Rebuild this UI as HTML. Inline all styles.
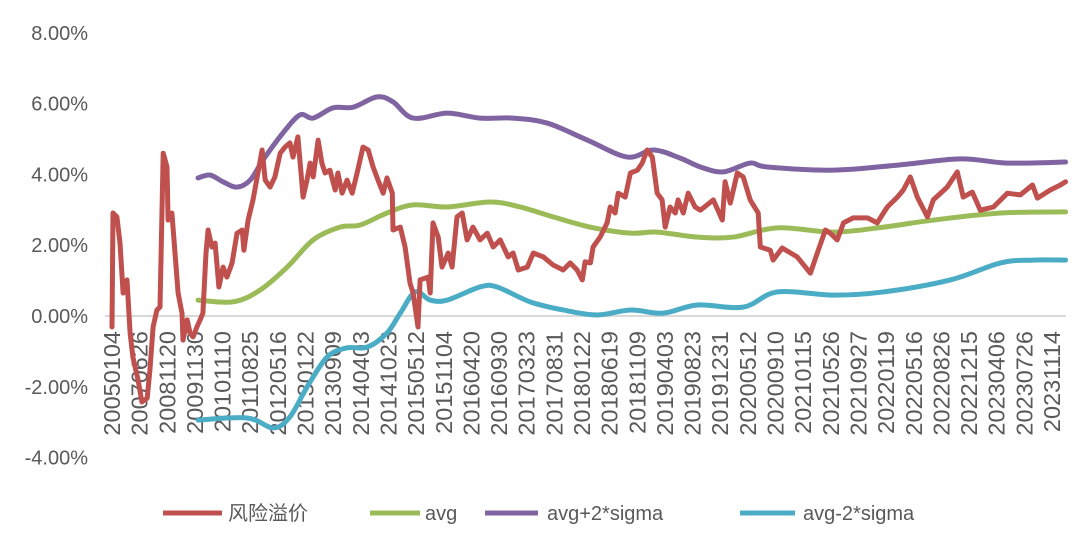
<!DOCTYPE html>
<html><head><meta charset="utf-8"><style>
body{margin:0;background:#fff;}
svg text{font-family:"Liberation Sans","Noto Sans CJK SC",sans-serif;fill:#595959;}
</style></head><body>
<svg id="chart" width="1086" height="537" viewBox="0 0 1086 537" xmlns="http://www.w3.org/2000/svg">
<g id="yaxis"></g>
<g id="xaxis"></g>
<g id="series"></g>
<g id="legend"></g>
</svg>
<script>
const xLabels=["20050104","20070626","20081120","20091130","20101110","20110825","20120516","20130122","20130909","20140403","20141023","20150512","20151104","20160420","20160930","20170323","20170831","20180122","20180619","20181109","20190403","20190823","20191231","20200512","20200910","20210115","20210526","20210927","20220119","20220516","20220826","20221215","20230406","20230726","20231114"];
const yTicks=[-4,-2,0,2,4,6,8];
const redT=[0,0.03,0.14,0.23,0.32,0.43,0.52,0.6,0.75,0.86,1.01,1.09,1.18,1.29,1.38,1.47,1.58,1.61,1.72,1.81,1.9,2.01,2.04,2.16,2.24,2.33,2.44,2.53,2.61,2.7,2.76,2.87,2.96,3.07,3.19,3.3,3.45,3.59,3.74,3.79,3.91,4.05,4.17,4.31,4.4,4.54,4.68,4.83,4.97,5.11,5.2,5.34,5.49,5.6,5.69,5.78,5.92,6.03,6.12,6.26,6.41,6.49,6.61,6.75,6.9,7.04,7.21,7.36,7.5,7.64,7.79,7.9,8.05,8.07,8.28,8.42,8.56,8.65,8.79,8.85,9.08,9.14,9.22,9.37,9.48,9.66,9.77,9.91,10.06,10.2,10.37,10.57,10.78,10.95,11.15,11.38,11.52,11.67,11.93,12.1,12.39,12.67,12.96,13.16,13.36,13.51,13.59,13.74,13.82,14.02,14.22,14.31,14.45,14.54,14.74,14.89,15.09,15.23,15.37,15.52,15.66,15.8,15.89,16.03,16.18,16.26,16.41,16.55,16.75,16.9,17.27,17.53,17.61,17.76,17.96,18.13,18.33,18.56,18.62,18.91,18.99,19.25,19.68,20.06,20.26,20.49,20.63,20.83,21.01,21.29,21.7,21.98,22.27,22.56,22.73,22.93,23.13,23.42,23.59,23.99,24.28,24.45,24.71,24.94,25.32,25.72,26.09,26.44,26.58,26.95,27.24,27.39];
const redV=[-0.31,2.91,2.8,2.06,0.65,1.02,-0.48,-1.16,-1.81,-2.43,-2.32,-1.53,-0.31,0.17,0.25,4.6,4.21,2.71,2.91,1.78,0.65,0.08,-0.68,-0.11,-0.48,-0.59,-0.31,-0.11,0.08,1.78,2.43,1.95,2.06,0.82,1.38,1.1,1.5,2.34,2.43,1.86,2.71,3.28,3.93,4.69,3.84,3.64,3.93,4.6,4.77,4.89,4.49,5.06,3.36,3.84,4.32,3.93,4.97,4.32,4.04,4.12,3.56,4.04,3.47,3.84,3.47,4.04,4.77,4.69,4.21,3.84,3.47,3.9,3.47,2.43,2.51,1.95,0.93,0.65,-0.31,1.02,1.1,0.65,2.63,2.23,1.38,1.78,1.38,2.8,2.91,2.15,2.51,2.15,2.34,1.95,2.15,1.67,1.78,1.3,1.38,1.78,1.67,1.44,1.3,1.5,1.3,1.02,1.53,1.5,1.95,2.23,2.63,3.08,2.91,3.47,3.36,4.04,4.12,4.32,4.69,4.49,3.47,3.28,2.51,3.08,2.91,3.28,2.91,3.47,3.08,2.99,3.28,2.71,3.79,3.19,4.04,3.93,3.28,2.91,1.95,1.86,1.58,1.92,1.67,1.21,1.78,2.43,2.34,2.15,2.63,2.77,2.77,2.63,3.08,3.36,3.56,3.93,3.36,2.8,3.28,3.64,4.07,3.36,3.5,2.99,3.08,3.47,3.42,3.7,3.33,3.56,3.7,3.79];
const upT=[2.47,2.82,3.19,3.59,3.97,4.34,4.91,5.4,5.78,6.35,6.93,7.61,8.07,8.65,9.63,10.57,11.52,12.5,13.65,14.8,15.55,16.32,16.9,17.56,18.33,18.82,20.72,22.64,24.37,25.72,27.39];
const upV=[3.9,3.98,3.79,3.64,3.84,4.41,5.17,5.68,5.59,5.88,5.9,6.19,6.05,5.59,5.73,5.59,5.59,5.45,4.97,4.49,4.69,4.46,4.21,4.07,4.32,4.21,4.12,4.27,4.44,4.32,4.35];
const avgT=[2.47,3.48,4.25,5.03,5.78,6.55,7.13,7.9,8.65,9.63,10.86,11.72,12.67,13.74,14.89,15.66,16.81,17.84,19.11,20.72,22.16,23.59,25.52,27.39];
const avgV=[0.45,0.4,0.73,1.38,2.15,2.51,2.57,2.91,3.14,3.08,3.22,3.08,2.8,2.51,2.34,2.37,2.23,2.23,2.49,2.37,2.51,2.71,2.91,2.94];
const loT=[2.47,3.88,4.63,5.11,5.6,6.18,6.75,7.33,7.9,8.28,8.71,9.14,9.63,10.57,11.06,12.01,12.96,13.94,14.89,15.83,16.81,18.13,19.11,20.72,22.16,24.08,25.52,26.47,27.39];
const loV=[-2.94,-2.88,-3.16,-2.85,-2.01,-1.16,-0.9,-0.88,-0.48,0.08,0.68,0.45,0.45,0.82,0.82,0.4,0.17,0.03,0.17,0.08,0.31,0.25,0.68,0.59,0.68,1.02,1.5,1.58,1.58];

const NS="http://www.w3.org/2000/svg";
const X0=112,DX=(1052-112)/27;
const Y0=316,DY=35.4;
const sx=t=>X0+t*DX;
const sy=v=>Y0-v*DY;
function mk(tag,attrs,parent){const e=document.createElementNS(NS,tag);for(const k in attrs)e.setAttribute(k,attrs[k]);parent.appendChild(e);return e;}
const yg=document.getElementById('yaxis'),xg=document.getElementById('xaxis'),sg=document.getElementById('series'),lg=document.getElementById('legend');
yTicks.forEach(v=>{const t=mk('text',{x:88,y:sy(v)+7,'text-anchor':'end','font-size':20},yg);t.textContent=v.toFixed(2)+'%';

});
const ax=mk('line',{x1:105,x2:1066,y1:Y0,y2:Y0,stroke:'#d9d9d9','stroke-width':2},xg);


xLabels.forEach((lab,i)=>{const x=sx(i*27/(xLabels.length-1));const t=mk('text',{x:0,y:0,'text-anchor':'end','font-size':23.5,transform:`translate(${x+8},331) rotate(-90)`},xg);t.textContent=lab;

});
function line(T,V,color,name,smooth){let d='';const p=T.map((t,i)=>[sx(t),sy(V[i])]);
if(!smooth){d=p.map((q,i)=>(i?'L':'M')+q[0].toFixed(1)+' '+q[1].toFixed(1)).join('');}
else{d='M'+p[0][0]+' '+p[0][1];for(let i=0;i<p.length-1;i++){const a=p[i-1]||p[i],b=p[i],c=p[i+1],e=p[i+2]||c;
d+=`C${b[0]+(c[0]-a[0])/6} ${b[1]+(c[1]-a[1])/6} ${c[0]-(e[0]-b[0])/6} ${c[1]-(e[1]-b[1])/6} ${c[0]} ${c[1]}`;}}
const el=mk('path',{d,fill:'none',stroke:color,'stroke-width':5,'stroke-linejoin':'round','stroke-linecap':'round'},sg);

}
line(loT,loV,'#4bacc6','avg-minus-2sigma-line',true);
line(avgT,avgV,'#9bbb59','avg-line',true);
line(upT,upV,'#8064a2','avg-plus-2sigma-line',true);
line(redT,redV,'#c0504d','risk-premium-line',false);
const leg=[['风险溢价','#c0504d',163,222,228],['avg','#9bbb59',370,420,425],['avg+2*sigma','#8064a2',485,538,547],['avg-2*sigma','#4bacc6',740,795,803]];
leg.forEach(l=>{const g=mk('g',{},lg);


mk('line',{x1:l[2],x2:l[3],y1:513,y2:513,stroke:l[1],'stroke-width':5},g);
const t=mk('text',{x:l[4],y:520,'font-size':20},g);t.textContent=l[0];});
</script>
</body></html>
